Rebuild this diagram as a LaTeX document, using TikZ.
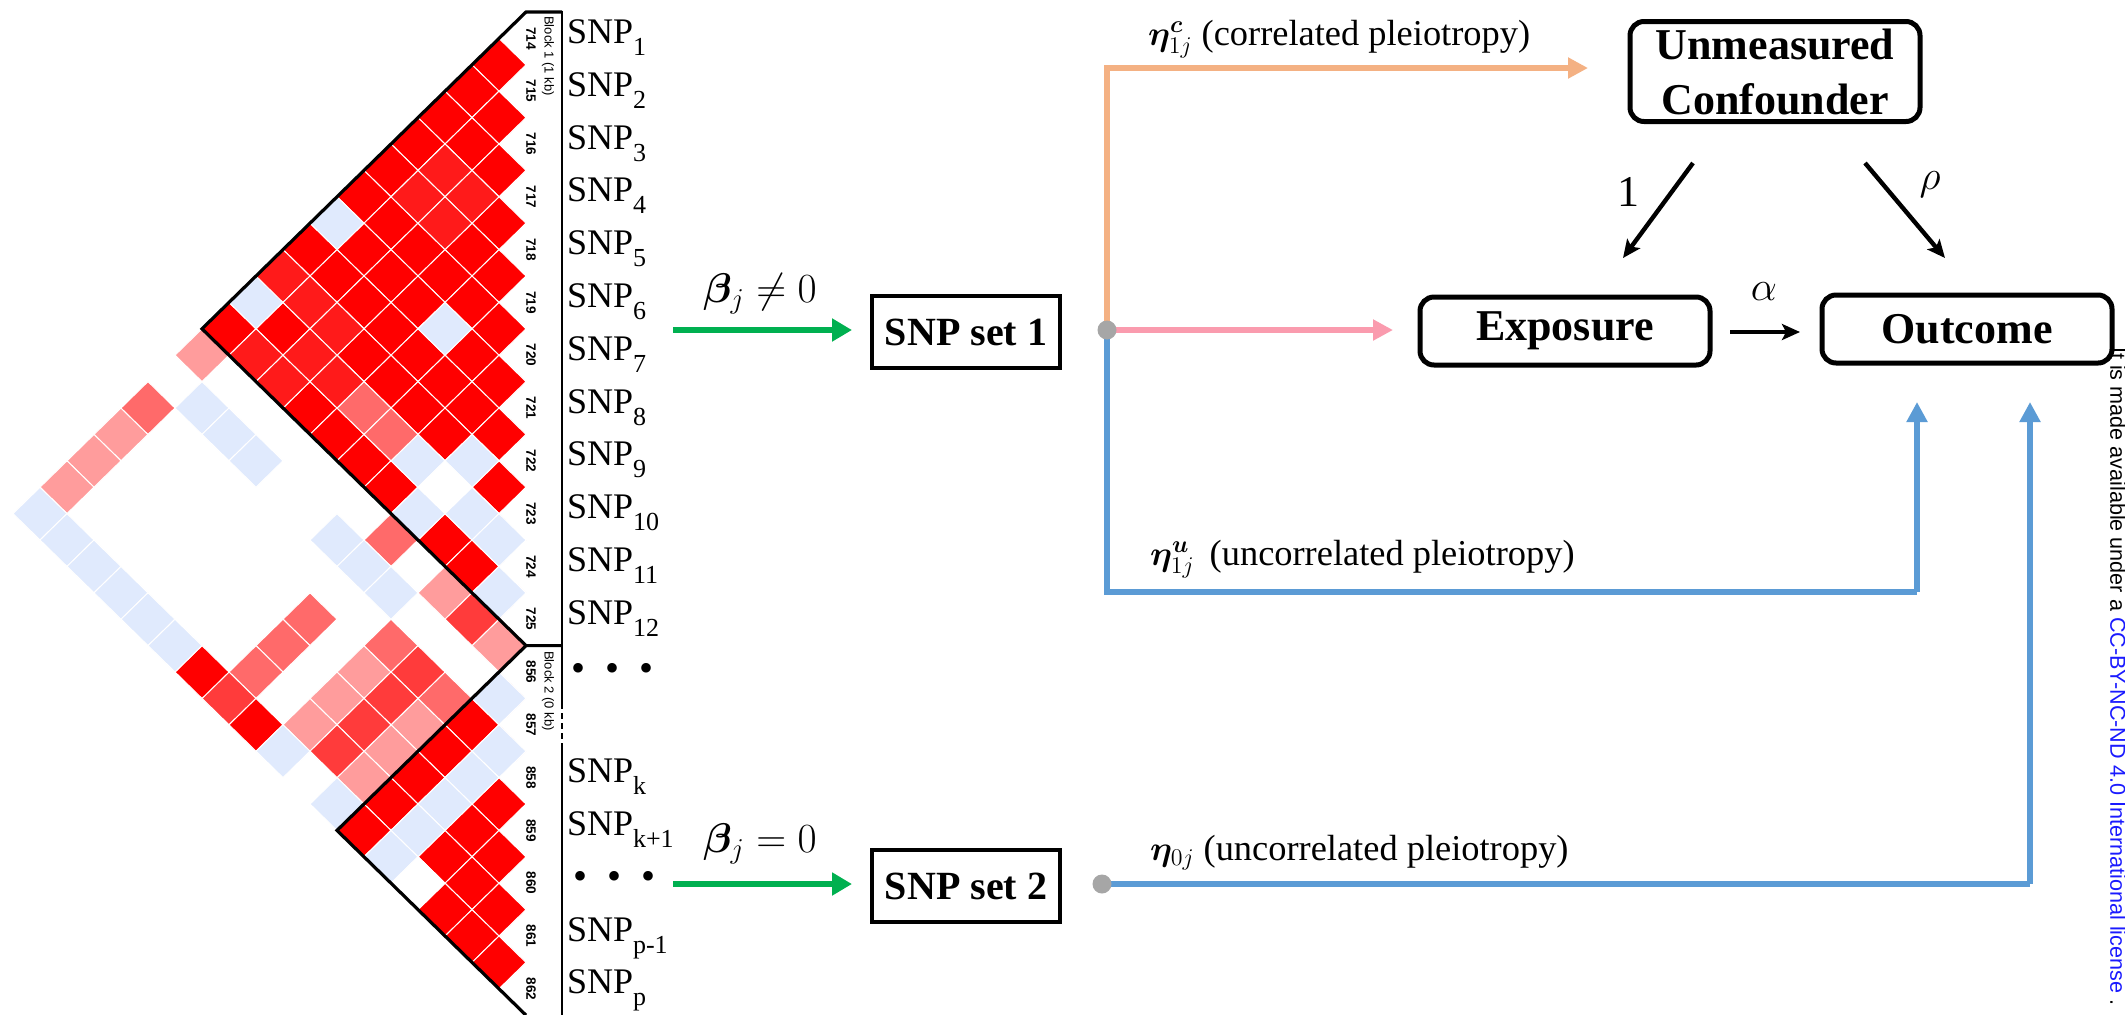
\documentclass[tikz,border=0pt]{standalone}
\usepackage{amsmath}
\usepackage{bm}
\usepackage{fontspec}
\setmainfont{Liberation Serif}
\newfontfamily\lsans{Liberation Sans}
\usetikzlibrary{arrows.meta}
\definecolor{ldR}{HTML}{FF0000}
\definecolor{ldRb}{HTML}{FF1A1A}
\definecolor{ldRc}{HTML}{FF3B3B}
\definecolor{ldM}{HTML}{FF6A6A}
\definecolor{ldP}{HTML}{FF9C9C}
\definecolor{ldB}{HTML}{E0EAFD}
\definecolor{cOrange}{HTML}{F4B183}
\definecolor{cPink}{HTML}{FA9BAE}
\definecolor{cBlue}{HTML}{5B9BD5}
\definecolor{cGreen}{HTML}{00B050}
\definecolor{cGray}{HTML}{A6A6A6}
\definecolor{cLink}{HTML}{1A1AFF}
\newcommand\ldcell[3]{%
  \pgfmathsetmacro\cx{526-27*(#2-#1)}%
  \pgfmathsetmacro\cy{38.4+26.4*(#1+#2-2)}%
  \filldraw[fill=#3, draw=white, line width=0.5pt] (\cx-27,\cy) -- (\cx,\cy-26.4) -- (\cx+27,\cy) -- (\cx,\cy+26.4) -- cycle;%
}
\newcommand\snp[1]{SNP\raisebox{-6pt}{\fontsize{13}{14}\selectfont #1}}
\begin{document}
\begin{tikzpicture}[x=0.5pt,y=-0.5pt,
  every node/.style={inner sep=0pt, outer sep=0pt},
  rbox/.style={draw, line width=2.5pt, rounded corners=7pt, fill=white, minimum width=145pt, minimum height=34pt, font=\bfseries\fontsize{22}{27.5}\selectfont, align=center},
  sbox/.style={draw, line width=2pt, fill=white, minimum width=94pt, minimum height=36pt, font=\bfseries\fontsize{20}{24}\selectfont},
  snplab/.style={anchor=base west, font=\fontsize{18}{20}\selectfont},
  mlab/.style={rotate=-90, font=\lsans\bfseries\fontsize{6.8}{7}\selectfont},
  blab/.style={rotate=-90, font=\lsans\fontsize{6.5}{7}\selectfont},
  garrow/.style={draw=cGreen, line width=3.3pt, -{Triangle[length=10pt,width=11pt]}},
  carrow/.style={line width=3pt, -{Triangle[length=10pt,width=10pt]}},
  cline/.style={line width=3pt},
  karrow/.style={line width=2.2pt, -{Stealth[length=9pt,width=8pt,inset=2pt]}},
  plab/.style={anchor=base west, font=\fontsize{18.2}{21}\selectfont},
  glab/.style={font=\fontsize{19.5}{22}\selectfont},
  klab/.style={font=\fontsize{22}{24}\selectfont},
  gdot/.style={circle, fill=cGray, minimum size=9.5pt}
]
\useasboundingbox (0,0) rectangle (2125,1014);
\fill[white] (0,0) rectangle (2125,1014);

% ---------- LD heatmap ----------
\foreach \i in {1,...,11}{
  \pgfmathtruncatemacro\js{\i+1}
  \foreach \j in {\js,...,12}{\ldcell{\i}{\j}{ldR}}
}
\foreach \i in {13,...,18}{
  \pgfmathtruncatemacro\js{\i+1}
  \foreach \j in {\js,...,19}{\ldcell{\i}{\j}{ldR}}
}
\foreach \i/\j/\cc in {
  1/8/ldB, 1/11/ldB, 5/8/ldB, 8/10/ldB, 7/11/ldB, 9/11/ldB, 8/12/ldB, 10/11/ldB, 11/12/ldB,
  8/11/white, 5/11/ldM, 6/11/ldM,
  2/5/ldRb, 3/5/ldRb, 2/6/ldRb, 3/6/ldRb, 1/10/ldRb, 2/10/ldRb, 3/10/ldRb, 2/12/ldRb, 3/12/ldRb, 3/11/ldRb, 4/11/ldRb,
  1/13/ldP, 1/16/ldP, 1/17/ldP, 1/18/ldP, 10/13/ldP, 12/13/ldP, 10/16/ldP, 10/17/ldP, 10/18/ldP, 12/16/ldP, 12/17/ldP, 12/18/ldP,
  1/15/ldM, 8/13/ldM, 8/16/ldM, 8/17/ldM, 8/18/ldM, 10/15/ldM, 12/15/ldM,
  11/13/ldRc, 8/19/ldRc, 11/15/ldRc, 11/16/ldRc, 11/17/ldRc, 11/18/ldRc,
  7/19/ldR, 9/19/ldR,
  1/19/ldB, 2/19/ldB, 3/19/ldB, 4/19/ldB, 5/19/ldB, 6/19/ldB, 2/14/ldB, 3/14/ldB, 4/14/ldB,
  7/14/ldB, 8/14/ldB, 9/14/ldB, 10/19/ldB, 12/19/ldB,
  13/14/ldB, 14/15/ldB, 14/16/ldB, 14/17/ldB, 14/18/ldB, 14/19/ldB, 15/19/white}{
  \ldcell{\i}{\j}{\cc}
}
% block outlines
\draw[line width=1.6pt, line join=miter] (562,12) -- (526,12) -- (202,328.8) -- (526,645.6) -- (562,645.6);
\draw[line width=1.6pt, line join=miter] (526,645.6) -- (337,830.4) -- (526,1015.2);
\draw[line width=1.4pt] (562,11) -- (562,703);
\draw[line width=1.4pt, dash pattern=on 3pt off 2pt] (562,703) -- (562,748);
\draw[line width=1.4pt] (562,748) -- (562,1016);
% marker labels
\foreach \k/\m in {1/714,2/715,3/716,4/717,5/718,6/719,7/720,8/721,9/722,10/723,11/724,12/725,13/856,14/857,15/858,16/859,17/860,18/861,19/862}{
  \node[mlab] (m\k) at (531,{38.4+52.8*(\k-1)}) {\m};
}
\node[blab] (blk1) at (548,56) {Block 1 (1 kb)};
\node[blab] (blk2) at (548,691) {Block 2 (0 kb)};
% SNP labels
\foreach \k/\s in {1/1,2/2,3/3,4/4,5/5,6/6,7/7,8/8,9/9,10/10,11/11,12/12,15/k,16/k+1,18/p-1,19/p}{
  \node[snplab] (snp\k) at (567,{38.4+52.8*(\k-1)+5}) {\snp{\s}};
}
\node[anchor=west, font=\fontsize{20}{20}\selectfont] (dotsA) at (571,672) {•\hspace{0.5em}•\hspace{0.5em}•};
\node[anchor=west, font=\fontsize{20}{20}\selectfont] (dotsB) at (573,880) {•\hspace{0.5em}•\hspace{0.5em}•};

% ---------- license ----------
\node[rotate=-90, anchor=west, font=\lsans\fontsize{10.8}{12}\selectfont] (lic) at (2118,347)
  {It is made available under a \textcolor{cLink}{CC-BY-NC-ND 4.0 International license} .};

% ---------- right diagram ----------
\node[sbox] (set1) at (966,332) {SNP set 1};
\node[sbox] (set2) at (966,886) {SNP set 2};
\node[rbox, minimum height=50pt] (conf) at (1775,71.5) {Unmeasured\\Confounder};
\node[rbox] (expo) at (1565,331) {Exposure};
\node[rbox] (outc) at (1967,329) {Outcome};

\coordinate (g1) at (673,330);
\coordinate (g2) at (673,884);
\coordinate (d1) at (1107,330);
\coordinate (d2) at (1102,884);
\coordinate (b1) at (1917,592);
\coordinate (b2) at (2030,884);
\coordinate (oy) at (0,68);

\draw[garrow, shorten >=10pt] (g1) -- (set1.west |- g1);
\draw[garrow, shorten >=10pt] (g2) -- (set2.west |- g2);
\node[glab] (beta1) at (760,294) {$\bm{\beta}_{j}\neq 0$};
\node[glab] (beta2) at (760,844) {$\bm{\beta}_{j}= 0$};

\draw[carrow, draw=cOrange, shorten >=21pt] (d1) |- (conf.west |- oy);
\draw[carrow, draw=cPink, shorten >=13.5pt] (d1) -- (expo.west |- d1);
\draw[cline, draw=cBlue] (d1) |- (b1);
\draw[carrow, draw=cBlue, shorten >=19.5pt] (b1) -- (b1 |- outc.south);
\draw[cline, draw=cBlue] (d2) -- (b2);
\draw[carrow, draw=cBlue, shorten >=19.5pt] (b2) -- (b2 |- outc.south);

\node[gdot] (dot1) at (d1) {};
\node[gdot] (dot2) at (d2) {};

\node[plab] (etac) at (1148,45) {$\bm{\eta}^{\bm{c}}_{1j}$ (correlated pleiotropy)};
\node[plab] (etau) at (1150,565) {$\bm{\eta}^{\bm{u}}_{1j}$\, (uncorrelated pleiotropy)};
\node[plab] (eta0) at (1150,860) {$\bm{\eta}_{0j}$ (uncorrelated pleiotropy)};

\coordinate (a1s) at (1693,163);
\coordinate (a1e) at (1623,258);
\coordinate (a2s) at (1865,163);
\coordinate (a2e) at (1945,258);
\coordinate (a3s) at (1730,332);
\coordinate (a3e) at (1800,332);
\draw[karrow] (a1s) -- (a1e);
\draw[karrow] (a2s) -- (a2e);
\draw[karrow] (a3s) -- (a3e);
\node[klab] (l1) at (1628,192) {1};
\node[klab] (lrho) at (1930,185) {$\rho$};
\node[klab] (lalpha) at (1764,292) {$\alpha$};
\end{tikzpicture}
\end{document}
